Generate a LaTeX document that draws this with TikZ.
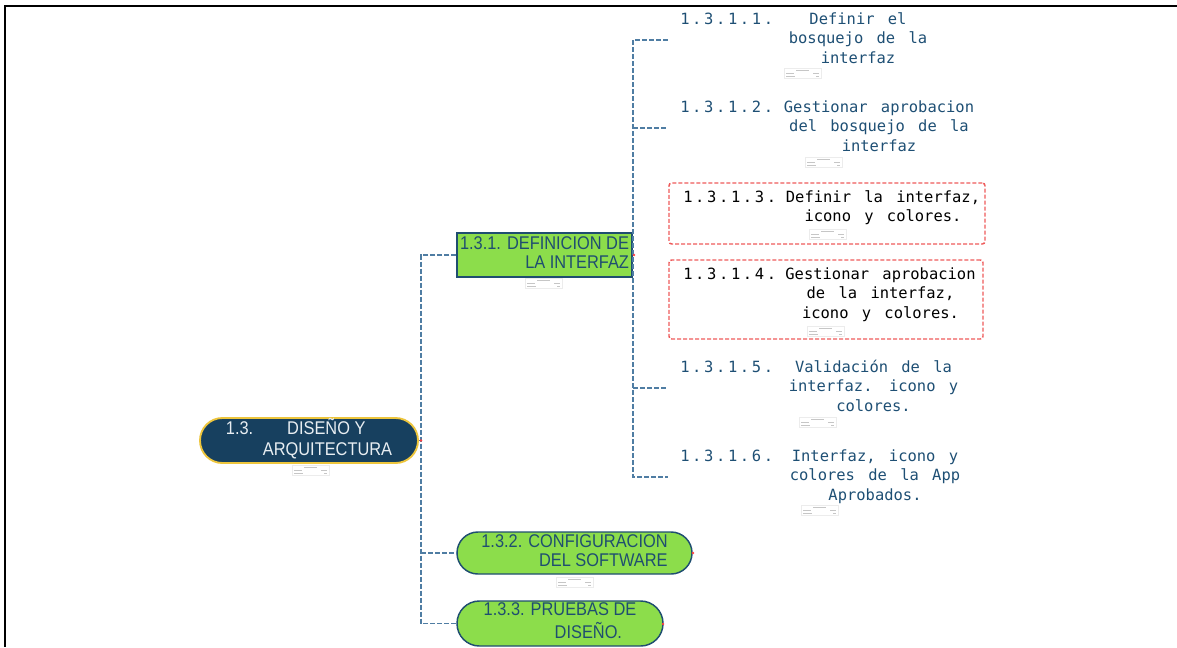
\documentclass[tikz,border=0pt]{standalone}
\usepackage{fontspec}
\usetikzlibrary{fit}
\newfontfamily\pillfont{Liberation Sans}[FakeStretch=0.89]
\newfontfamily\itemfont{DejaVu Sans Mono}[WordSpace=1.43]
\newfontfamily\numfont{DejaVu Sans Mono}[LetterSpace=17]
\definecolor{rootblue}{HTML}{17405F}
\definecolor{rootgold}{HTML}{EDC53C}
\definecolor{leaf}{HTML}{8CDD4B}
\definecolor{navy}{HTML}{1F4E70}
\definecolor{linkblue}{HTML}{4F7DA3}
\definecolor{redline}{HTML}{EE5A5A}
\definecolor{itemtext}{HTML}{1E4F74}
\definecolor{roottext}{HTML}{E8EEF2}
\tikzset{
  rootpill/.style={draw=rootgold, line width=1.4pt, fill=rootblue, text=roottext,
    font=\pillfont\fontsize{13.8}{15.75}\selectfont, inner sep=0pt},
  pill/.style={draw=navy, line width=1.1pt, fill=leaf, text=navy, inner sep=0pt},
  pillfontA/.style={font=\pillfont\fontsize{13.8}{13.5}\selectfont},
  pillfontB/.style={font=\pillfont\fontsize{13.8}{14.25}\selectfont},
  numtext/.style={font=\numfont\fontsize{11.6}{14.6}\selectfont, inner sep=0pt, anchor=base west},
  bodytext/.style={font=\itemfont\fontsize{11.6}{14.6}\selectfont, inner sep=0pt, anchor=north, align=center},
  itembox/.style={inner xsep=9pt, inner ysep=0pt},
  redbox/.style={draw=redline, line width=1.1pt, dash pattern=on 3pt off 1.5pt, rounded corners=2pt, inner sep=0pt},
  conn/.style={draw=linkblue, line width=1.1pt, dash pattern=on 3.75pt off 1.5pt},
  marker/.style={fill=red!75, draw=none, circle, inner sep=0pt, minimum size=2pt},
  datebox/.pic={
    \draw[gray!15, line width=0.3pt, fill=white] (0,0) rectangle (37,10);
    \draw[gray!45, line width=0.45pt] (12,2.2) -- (25,2.2) (2,5) -- (10,5) (29,5) -- (35,5) (2,7.8) -- (11,7.8) (32,7.8) -- (35,7.8);
  }
}
\begin{document}
\begin{tikzpicture}[x=0.75pt, y=-0.75pt]
\useasboundingbox (0,0) rectangle (1177,647);
% frame lines
\draw[line width=1.5pt] (5,6) -- (197,6);
\draw[line width=0.8pt] (197,6) -- (987,6);
\draw[line width=1.5pt] (987,6) -- (1177,6);
\draw[line width=1.5pt] (5,5.25) -- (5,647);

% red boxes
\node[redbox, minimum width=237pt, minimum height=45.75pt] (it3) at (827,213.5) {};
\node[redbox, minimum width=235.5pt, minimum height=59.25pt] (it4) at (826,299.5) {};

% main nodes
\node[rootpill, minimum width=163.5pt, minimum height=33.75pt, rounded corners=16.8pt, align=left] (root) at (309,440.5)
  {\strut 1.3.\hspace*{25.5pt}DISEÑO Y\\\hspace*{27.75pt}\strut ARQUITECTURA};
\node[pill, pillfontA, minimum width=131.25pt, minimum height=33pt, align=right] (n131) at (544.5,255)
  {\strut 1.3.1. DEFINICION DE\\\strut LA INTERFAZ};
\node[pill, pillfontB, minimum width=176.25pt, minimum height=31.5pt, rounded corners=15.7pt, align=right] (n132) at (574.5,553)
  {\strut 1.3.2. CONFIGURACION\\\strut DEL SOFTWARE};
\node[pill, pillfontB, minimum width=154.5pt, minimum height=33.75pt, rounded corners=16.8pt, align=left] (n133) at (560,623.5)
  {\strut 1.3.3. PRUEBAS DE\\\hspace*{53.25pt}\strut DISEÑO.};

% items
\node[numtext, text=itemtext] (num1) at (680,24) {1.3.1.1.};
\node[bodytext, text=itemtext] (body1) at (858,10.4) {\strut Definir el\\\strut bosquejo de la\\\strut interfaz};
\node[itembox, fit=(num1)(body1)] (it1) {};

\node[numtext, text=itemtext] (num2) at (680,112) {1.3.1.2.};
\node[bodytext, text=itemtext] (body2) at (879,98.4) {\strut Gestionar aprobacion\\\strut del bosquejo de la\\\strut interfaz};
\node[itembox, fit=(num2)(body2)] (it2) {};

\node[numtext, text=black] (num3) at (683,202) {1.3.1.3.};
\node[bodytext, text=black] (body3) at (883,188.4) {\strut Definir la interfaz,\\\strut icono y colores.};

\node[numtext, text=black] (num4) at (683,279) {1.3.1.4.};
\node[bodytext, text=black] (body4) at (880.5,265.4) {\strut Gestionar aprobacion\\\strut de la interfaz,\\\strut icono y colores.};

\node[numtext, text=itemtext] (num5) at (680,372) {1.3.1.5.};
\node[bodytext, text=itemtext] (body5) at (873.5,358.4) {\strut Validación de la\\\strut interfaz. icono y\\\strut colores.};
\node[itembox, fit=(num5)(body5)] (it5) {};

\node[numtext, text=itemtext] (num6) at (680,461) {1.3.1.6.};
\node[bodytext, text=itemtext] (body6) at (875,447.4) {\strut Interfaz, icono y\\\strut colores de la App\\\strut Aprobados.};
\node[itembox, fit=(num6)(body6)] (it6) {};

% connectors (each spine drawn once so the dashes stay visible)
\coordinate (s1) at (421,440.5);
\coordinate (s2) at (633,255);
\draw[conn] (root.east) -- (s1);
\draw[conn] (n131.west) -- (n131.west -| s1) -- (n133.west -| s1) -- (n133.west);
\draw[conn] (n132.west -| s1) -- (n132.west);
\draw[conn] (it1.west) -- (it1.west -| s2) -- (it6.west -| s2) -- (it6.west);
\draw[conn] (it2.west -| s2) -- (it2.west);
\draw[conn] (it5.west -| s2) -- (it5.west);

% collapse markers
\node[marker] (m1) at (421,440.5) {};
\node[marker] (m2) at (634,255) {};
\node[marker] (m3) at (693,553) {};
\node[marker] (m4) at (663,624) {};

% date boxes
\pic at (292,465) {datebox};
\pic at (525,278) {datebox};
\pic at (556,577) {datebox};
\pic at (784,68) {datebox};
\pic at (805,157) {datebox};
\pic at (809,229) {datebox};
\pic at (807,326) {datebox};
\pic at (799,417) {datebox};
\pic at (801,505) {datebox};
\end{tikzpicture}
\end{document}
